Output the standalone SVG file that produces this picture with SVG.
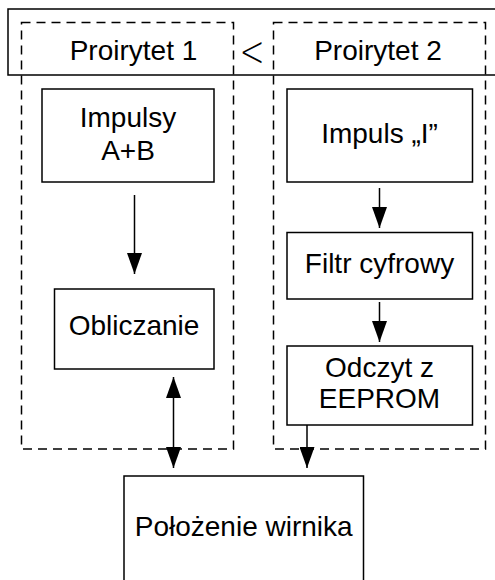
<svg xmlns="http://www.w3.org/2000/svg" width="495" height="580" viewBox="0 0 495 580">
<style>
.box{fill:#fff;stroke:#000;stroke-width:1.5}
.frame{fill:none;stroke:#000;stroke-width:1.5}
.dash{fill:none;stroke:#000;stroke-width:1.5;stroke-dasharray:9 6}
.t{font-family:"Liberation Sans",Arial,sans-serif;font-size:28px;fill:#000;text-anchor:middle}
.ln{stroke:#000;stroke-width:1.5;fill:none}
</style>
<defs>
<marker id="a" viewBox="0 0 21 15" refX="21" refY="7.5" markerWidth="21" markerHeight="15" markerUnits="userSpaceOnUse" orient="auto-start-reverse">
<path d="M0,0 L21,7.5 L0,15 Z" fill="#000"/>
</marker>
</defs>
<g id="header">
<path class="frame" d="M496,9 H8 V75 H496"/>
</g>
<g id="priority1">
<rect class="dash" x="21.5" y="22.5" width="212" height="426.5"/>
<text class="t" x="133.5" y="60">Proirytet 1</text>
</g>
<g id="less">
<text x="252" y="62" style="font-family:'DejaVu Sans',sans-serif;font-size:30px;font-weight:200;text-anchor:middle" transform="translate(252 52) scale(1 1.4) translate(-252 -52)">&lt;</text>
</g>
<g id="priority2">
<rect class="dash" x="273.5" y="22.5" width="212" height="426.5"/>
<text class="t" x="378" y="60">Proirytet 2</text>
</g>
<g id="impulsyAB">
<rect class="box" x="42" y="89" width="172" height="93"/>
<text class="t" x="128" y="127">Impulsy</text>
<text class="t" x="128" y="160">A+B</text>
</g>
<g id="obliczanie">
<rect class="box" x="54.5" y="289" width="159.5" height="80"/>
<text class="t" x="134" y="335">Obliczanie</text>
</g>
<g id="impulsI">
<rect class="box" x="287" y="89" width="185.5" height="93"/>
<text class="t" x="379.5" y="143">Impuls „I”</text>
</g>
<g id="filtr">
<rect class="box" x="287" y="232.5" width="185.5" height="66.5"/>
<text class="t" x="379.5" y="273">Filtr cyfrowy</text>
</g>
<g id="eeprom">
<rect class="box" x="287" y="346" width="185.5" height="79"/>
<text class="t" x="379.5" y="377">Odczyt z</text>
<text class="t" x="379.5" y="408">EEPROM</text>
</g>
<g id="polozenie">
<path class="frame" d="M124,581 V476 H363.5 V581"/>
<text class="t" x="243.7" y="536">Położenie wirnika</text>
</g>
<g id="connectors">
<line class="ln" x1="134.5" y1="195" x2="134.5" y2="274" marker-end="url(#a)"/>
<line class="ln" x1="379.5" y1="188" x2="379.5" y2="228" marker-end="url(#a)"/>
<line class="ln" x1="379.5" y1="302" x2="379.5" y2="342" marker-end="url(#a)"/>
<line class="ln" x1="307" y1="425" x2="307" y2="468" marker-end="url(#a)"/>
<line class="ln" x1="173.5" y1="377" x2="173.5" y2="468" marker-start="url(#a)" marker-end="url(#a)"/>
</g>
</svg>
